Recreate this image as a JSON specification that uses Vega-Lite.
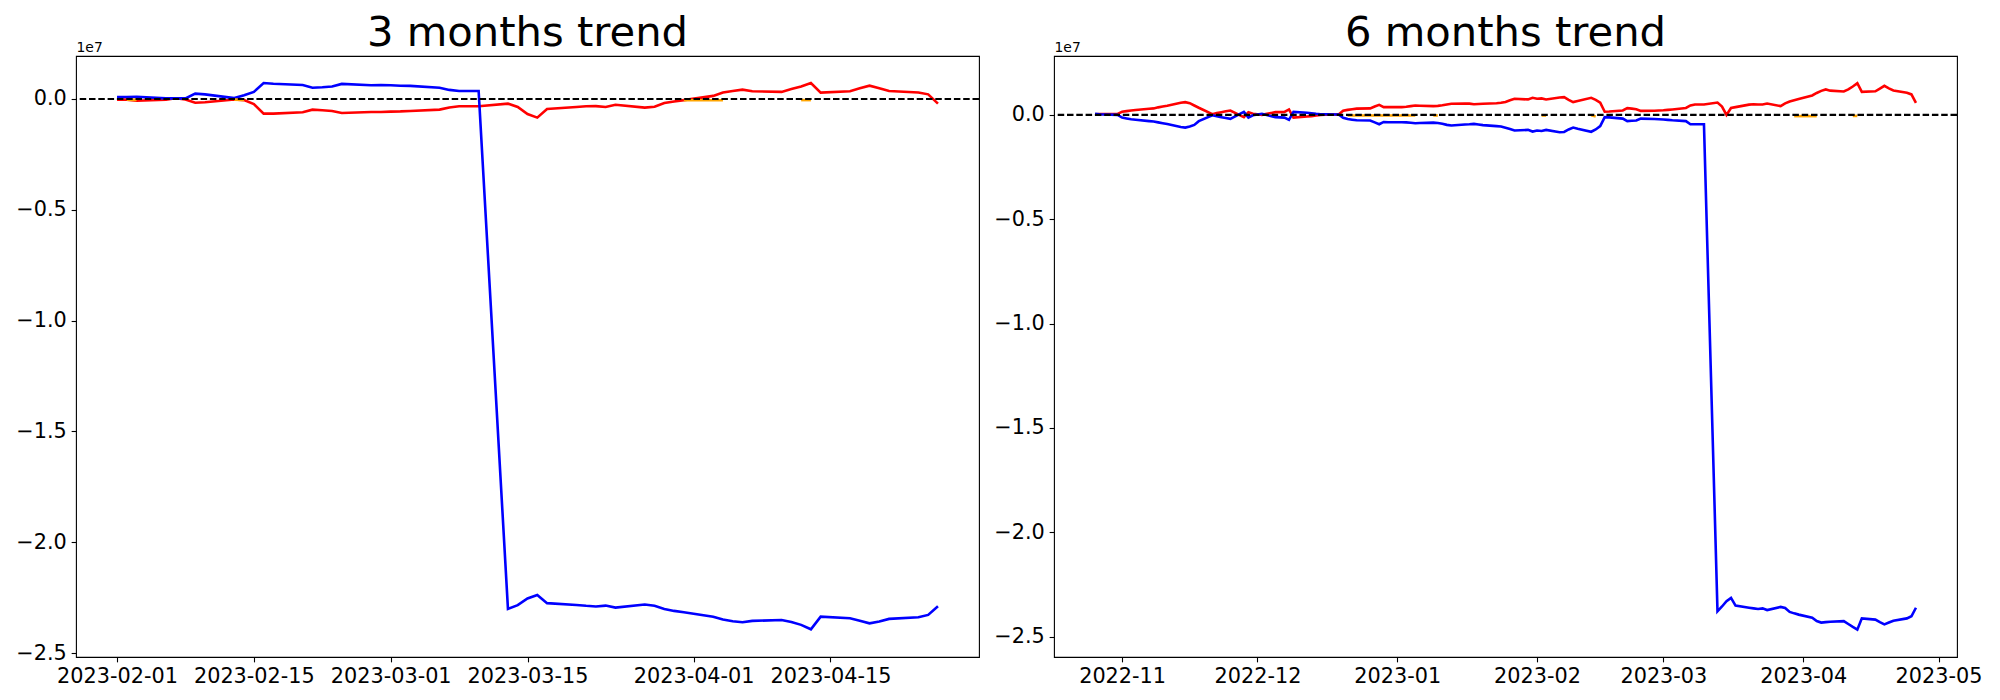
{
"$schema":"https://vega.github.io/schema/vega-lite/v6.json",
"padding":{"left":15,"top":12,"right":0,"bottom":0},
"background":"white",
"spacing":75,
"bounds":"flush",
"config":{
 "view":{"stroke":"black","strokeWidth":1.1},
 "axis":{"domain":false,"grid":false,"tickColor":"black","tickSize":4.86,"tickWidth":1.1,"labelFont":"DejaVu Sans","labelFontSize":20.8,"labelColor":"black","labelPadding":4.86,"labelFlush":false,"labelOverlap":false,"labelBound":false,"titleFont":"DejaVu Sans","titleColor":"black"},
 "title":{"font":"DejaVu Sans","fontSize":41.7,"fontWeight":"normal","color":"black","anchor":"middle","baseline":"alphabetic","offset":-14.9,"frame":"group"}
},
"datasets":{
"left":[
{"date":"2023-02-01","blue":0.009e7,"red":-0.003e7},
{"date":"2023-02-02","blue":0.009e7,"red":-0.003e7},
{"date":"2023-02-03","blue":0.010e7,"red":-0.008e7},
{"date":"2023-02-06","blue":0.003e7,"red":-0.003e7},
{"date":"2023-02-07","blue":0.003e7,"red":0.003e7},
{"date":"2023-02-08","blue":0.003e7,"red":-0.002e7},
{"date":"2023-02-09","blue":0.024e7,"red":-0.017e7},
{"date":"2023-02-10","blue":0.021e7,"red":-0.015e7},
{"date":"2023-02-13","blue":0.004e7,"red":-0.002e7},
{"date":"2023-02-14","blue":0.017e7,"red":-0.005e7},
{"date":"2023-02-15","blue":0.032e7,"red":-0.023e7},
{"date":"2023-02-16","blue":0.072e7,"red":-0.066e7},
{"date":"2023-02-17","blue":0.069e7,"red":-0.066e7},
{"date":"2023-02-20","blue":0.063e7,"red":-0.060e7},
{"date":"2023-02-21","blue":0.051e7,"red":-0.048e7},
{"date":"2023-02-22","blue":0.053e7,"red":-0.051e7},
{"date":"2023-02-23","blue":0.056e7,"red":-0.054e7},
{"date":"2023-02-24","blue":0.068e7,"red":-0.063e7},
{"date":"2023-02-27","blue":0.062e7,"red":-0.059e7},
{"date":"2023-02-28","blue":0.063e7,"red":-0.059e7},
{"date":"2023-03-01","blue":0.062e7,"red":-0.057e7},
{"date":"2023-03-02","blue":0.060e7,"red":-0.056e7},
{"date":"2023-03-03","blue":0.059e7,"red":-0.054e7},
{"date":"2023-03-06","blue":0.051e7,"red":-0.048e7},
{"date":"2023-03-07","blue":0.041e7,"red":-0.038e7},
{"date":"2023-03-08","blue":0.036e7,"red":-0.033e7},
{"date":"2023-03-09","blue":0.036e7,"red":-0.033e7},
{"date":"2023-03-10","blue":0.036e7,"red":-0.033e7},
{"date":"2023-03-13","blue":-2.301e7,"red":-0.021e7},
{"date":"2023-03-14","blue":-2.284e7,"red":-0.036e7},
{"date":"2023-03-15","blue":-2.254e7,"red":-0.068e7},
{"date":"2023-03-16","blue":-2.238e7,"red":-0.084e7},
{"date":"2023-03-17","blue":-2.275e7,"red":-0.045e7},
{"date":"2023-03-20","blue":-2.283e7,"red":-0.036e7},
{"date":"2023-03-21","blue":-2.287e7,"red":-0.033e7},
{"date":"2023-03-22","blue":-2.290e7,"red":-0.032e7},
{"date":"2023-03-23","blue":-2.286e7,"red":-0.036e7},
{"date":"2023-03-24","blue":-2.295e7,"red":-0.026e7},
{"date":"2023-03-27","blue":-2.281e7,"red":-0.039e7},
{"date":"2023-03-28","blue":-2.287e7,"red":-0.035e7},
{"date":"2023-03-29","blue":-2.301e7,"red":-0.018e7},
{"date":"2023-03-30","blue":-2.310e7,"red":-0.011e7},
{"date":"2023-03-31","blue":-2.316e7,"red":-0.005e7},
{"date":"2023-04-03","blue":-2.336e7,"red":0.014e7},
{"date":"2023-04-04","blue":-2.349e7,"red":0.029e7},
{"date":"2023-04-05","blue":-2.357e7,"red":0.036e7},
{"date":"2023-04-06","blue":-2.361e7,"red":0.042e7},
{"date":"2023-04-07","blue":-2.355e7,"red":0.035e7},
{"date":"2023-04-10","blue":-2.351e7,"red":0.032e7},
{"date":"2023-04-11","blue":-2.360e7,"red":0.045e7},
{"date":"2023-04-12","blue":-2.373e7,"red":0.056e7},
{"date":"2023-04-13","blue":-2.393e7,"red":0.072e7},
{"date":"2023-04-14","blue":-2.336e7,"red":0.029e7},
{"date":"2023-04-17","blue":-2.343e7,"red":0.035e7},
{"date":"2023-04-18","blue":-2.354e7,"red":0.048e7},
{"date":"2023-04-19","blue":-2.366e7,"red":0.060e7},
{"date":"2023-04-20","blue":-2.358e7,"red":0.049e7},
{"date":"2023-04-21","blue":-2.346e7,"red":0.036e7},
{"date":"2023-04-24","blue":-2.339e7,"red":0.029e7},
{"date":"2023-04-25","blue":-2.328e7,"red":0.021e7},
{"date":"2023-04-26","blue":-2.289e7,"red":-0.021e7}
],
"leftO":[
{"date":"2023-02-02","seg":"a","value":-0.003e7},
{"date":"2023-02-03","seg":"a","value":-0.004e7},
{"date":"2023-02-13","seg":"b","value":-0.003e7},
{"date":"2023-02-14","seg":"b","value":-0.004e7},
{"date":"2023-03-31","seg":"c","value":-0.006e7},
{"date":"2023-04-03","seg":"c","value":-0.006e7},
{"date":"2023-04-04","seg":"c","value":-0.006e7},
{"date":"2023-04-12","seg":"d","value":-0.005e7},
{"date":"2023-04-13","seg":"d","value":-0.005e7}
],
"right":[
{"date":"2022-10-26","red":0.003e7,"blue":0.005e7},
{"date":"2022-10-27","red":0.004e7,"blue":0.003e7},
{"date":"2022-10-28","red":0.004e7,"blue":0.002e7},
{"date":"2022-10-31","red":0.005e7,"blue":0.000e7},
{"date":"2022-11-01","red":0.015e7,"blue":-0.013e7},
{"date":"2022-11-02","red":0.018e7,"blue":-0.017e7},
{"date":"2022-11-03","red":0.021e7,"blue":-0.021e7},
{"date":"2022-11-04","red":0.023e7,"blue":-0.023e7},
{"date":"2022-11-07","red":0.029e7,"blue":-0.030e7},
{"date":"2022-11-08","red":0.031e7,"blue":-0.032e7},
{"date":"2022-11-09","red":0.036e7,"blue":-0.036e7},
{"date":"2022-11-10","red":0.040e7,"blue":-0.040e7},
{"date":"2022-11-11","red":0.044e7,"blue":-0.044e7},
{"date":"2022-11-14","red":0.058e7,"blue":-0.058e7},
{"date":"2022-11-15","red":0.061e7,"blue":-0.061e7},
{"date":"2022-11-16","red":0.056e7,"blue":-0.056e7},
{"date":"2022-11-17","red":0.045e7,"blue":-0.048e7},
{"date":"2022-11-18","red":0.034e7,"blue":-0.030e7},
{"date":"2022-11-21","red":0.003e7,"blue":-0.002e7},
{"date":"2022-11-22","red":0.009e7,"blue":-0.007e7},
{"date":"2022-11-23","red":0.013e7,"blue":-0.011e7},
{"date":"2022-11-24","red":0.017e7,"blue":-0.015e7},
{"date":"2022-11-25","red":0.021e7,"blue":-0.019e7},
{"date":"2022-11-28","red":-0.011e7,"blue":0.014e7},
{"date":"2022-11-29","red":0.013e7,"blue":-0.013e7},
{"date":"2022-11-30","red":0.005e7,"blue":-0.002e7},
{"date":"2022-12-01","red":0.003e7,"blue":0.002e7},
{"date":"2022-12-02","red":0.000e7,"blue":0.005e7},
{"date":"2022-12-05","red":0.013e7,"blue":-0.011e7},
{"date":"2022-12-06","red":0.013e7,"blue":-0.012e7},
{"date":"2022-12-07","red":0.014e7,"blue":-0.013e7},
{"date":"2022-12-08","red":0.026e7,"blue":-0.024e7},
{"date":"2022-12-09","red":-0.013e7,"blue":0.014e7},
{"date":"2022-12-12","red":-0.008e7,"blue":0.010e7},
{"date":"2022-12-13","red":-0.006e7,"blue":0.008e7},
{"date":"2022-12-14","red":-0.003e7,"blue":0.005e7},
{"date":"2022-12-15","red":0.000e7,"blue":0.003e7},
{"date":"2022-12-16","red":0.001e7,"blue":0.003e7},
{"date":"2022-12-19","red":0.002e7,"blue":0.002e7},
{"date":"2022-12-20","red":0.020e7,"blue":-0.014e7},
{"date":"2022-12-21","red":0.024e7,"blue":-0.020e7},
{"date":"2022-12-22","red":0.027e7,"blue":-0.023e7},
{"date":"2022-12-23","red":0.030e7,"blue":-0.026e7},
{"date":"2022-12-26","red":0.031e7,"blue":-0.027e7},
{"date":"2022-12-27","red":0.040e7,"blue":-0.036e7},
{"date":"2022-12-28","red":0.048e7,"blue":-0.045e7},
{"date":"2022-12-29","red":0.037e7,"blue":-0.034e7},
{"date":"2022-12-30","red":0.037e7,"blue":-0.035e7},
{"date":"2023-01-02","red":0.037e7,"blue":-0.035e7},
{"date":"2023-01-03","red":0.039e7,"blue":-0.036e7},
{"date":"2023-01-04","red":0.042e7,"blue":-0.038e7},
{"date":"2023-01-05","red":0.045e7,"blue":-0.040e7},
{"date":"2023-01-06","red":0.044e7,"blue":-0.039e7},
{"date":"2023-01-09","red":0.042e7,"blue":-0.037e7},
{"date":"2023-01-10","red":0.043e7,"blue":-0.039e7},
{"date":"2023-01-11","red":0.046e7,"blue":-0.043e7},
{"date":"2023-01-12","red":0.050e7,"blue":-0.048e7},
{"date":"2023-01-13","red":0.053e7,"blue":-0.051e7},
{"date":"2023-01-16","red":0.054e7,"blue":-0.046e7},
{"date":"2023-01-17","red":0.054e7,"blue":-0.045e7},
{"date":"2023-01-18","red":0.051e7,"blue":-0.043e7},
{"date":"2023-01-19","red":0.052e7,"blue":-0.046e7},
{"date":"2023-01-20","red":0.053e7,"blue":-0.049e7},
{"date":"2023-01-23","red":0.056e7,"blue":-0.054e7},
{"date":"2023-01-24","red":0.058e7,"blue":-0.056e7},
{"date":"2023-01-25","red":0.062e7,"blue":-0.062e7},
{"date":"2023-01-26","red":0.070e7,"blue":-0.068e7},
{"date":"2023-01-27","red":0.077e7,"blue":-0.075e7},
{"date":"2023-01-30","red":0.074e7,"blue":-0.072e7},
{"date":"2023-01-31","red":0.082e7,"blue":-0.080e7},
{"date":"2023-02-01","red":0.077e7,"blue":-0.075e7},
{"date":"2023-02-02","red":0.079e7,"blue":-0.077e7},
{"date":"2023-02-03","red":0.074e7,"blue":-0.072e7},
{"date":"2023-02-06","red":0.083e7,"blue":-0.083e7},
{"date":"2023-02-07","red":0.085e7,"blue":-0.082e7},
{"date":"2023-02-08","red":0.072e7,"blue":-0.070e7},
{"date":"2023-02-09","red":0.061e7,"blue":-0.061e7},
{"date":"2023-02-10","red":0.066e7,"blue":-0.067e7},
{"date":"2023-02-13","red":0.082e7,"blue":-0.081e7},
{"date":"2023-02-14","red":0.072e7,"blue":-0.070e7},
{"date":"2023-02-15","red":0.058e7,"blue":-0.054e7},
{"date":"2023-02-16","red":0.015e7,"blue":-0.011e7},
{"date":"2023-02-17","red":0.016e7,"blue":-0.012e7},
{"date":"2023-02-20","red":0.021e7,"blue":-0.018e7},
{"date":"2023-02-21","red":0.032e7,"blue":-0.030e7},
{"date":"2023-02-22","red":0.030e7,"blue":-0.028e7},
{"date":"2023-02-23","red":0.027e7,"blue":-0.027e7},
{"date":"2023-02-24","red":0.019e7,"blue":-0.018e7},
{"date":"2023-02-27","red":0.020e7,"blue":-0.020e7},
{"date":"2023-02-28","red":0.021e7,"blue":-0.021e7},
{"date":"2023-03-01","red":0.022e7,"blue":-0.022e7},
{"date":"2023-03-02","red":0.024e7,"blue":-0.024e7},
{"date":"2023-03-03","red":0.026e7,"blue":-0.026e7},
{"date":"2023-03-06","red":0.033e7,"blue":-0.030e7},
{"date":"2023-03-07","red":0.045e7,"blue":-0.045e7},
{"date":"2023-03-08","red":0.050e7,"blue":-0.045e7},
{"date":"2023-03-09","red":0.050e7,"blue":-0.045e7},
{"date":"2023-03-10","red":0.050e7,"blue":-0.045e7},
{"date":"2023-03-13","red":0.059e7,"blue":-2.378e7},
{"date":"2023-03-14","red":0.040e7,"blue":-2.355e7},
{"date":"2023-03-15","red":0.000e7,"blue":-2.330e7},
{"date":"2023-03-16","red":0.033e7,"blue":-2.314e7},
{"date":"2023-03-17","red":0.037e7,"blue":-2.351e7},
{"date":"2023-03-20","red":0.049e7,"blue":-2.361e7},
{"date":"2023-03-21","red":0.051e7,"blue":-2.364e7},
{"date":"2023-03-22","red":0.050e7,"blue":-2.367e7},
{"date":"2023-03-23","red":0.050e7,"blue":-2.364e7},
{"date":"2023-03-24","red":0.054e7,"blue":-2.372e7},
{"date":"2023-03-27","red":0.042e7,"blue":-2.357e7},
{"date":"2023-03-28","red":0.055e7,"blue":-2.362e7},
{"date":"2023-03-29","red":0.064e7,"blue":-2.381e7},
{"date":"2023-03-30","red":0.070e7,"blue":-2.388e7},
{"date":"2023-03-31","red":0.076e7,"blue":-2.394e7},
{"date":"2023-04-03","red":0.093e7,"blue":-2.409e7},
{"date":"2023-04-04","red":0.105e7,"blue":-2.425e7},
{"date":"2023-04-05","red":0.115e7,"blue":-2.432e7},
{"date":"2023-04-06","red":0.122e7,"blue":-2.430e7},
{"date":"2023-04-07","red":0.116e7,"blue":-2.428e7},
{"date":"2023-04-10","red":0.112e7,"blue":-2.425e7},
{"date":"2023-04-11","red":0.122e7,"blue":-2.439e7},
{"date":"2023-04-12","red":0.136e7,"blue":-2.453e7},
{"date":"2023-04-13","red":0.152e7,"blue":-2.466e7},
{"date":"2023-04-14","red":0.110e7,"blue":-2.412e7},
{"date":"2023-04-17","red":0.113e7,"blue":-2.418e7},
{"date":"2023-04-18","red":0.126e7,"blue":-2.430e7},
{"date":"2023-04-19","red":0.139e7,"blue":-2.441e7},
{"date":"2023-04-20","red":0.127e7,"blue":-2.432e7},
{"date":"2023-04-21","red":0.117e7,"blue":-2.423e7},
{"date":"2023-04-24","red":0.106e7,"blue":-2.412e7},
{"date":"2023-04-25","red":0.098e7,"blue":-2.402e7},
{"date":"2023-04-26","red":0.058e7,"blue":-2.361e7}
],
"rightO":[
{"date":"2022-12-21","seg":"a","value":-0.003e7},
{"date":"2022-12-23","seg":"a","value":-0.003e7},
{"date":"2022-12-27","seg":"a","value":-0.003e7},
{"date":"2022-12-30","seg":"a","value":-0.003e7},
{"date":"2023-01-03","seg":"a","value":-0.003e7},
{"date":"2023-01-05","seg":"a","value":-0.003e7},
{"date":"2023-01-09","seg":"b","value":-0.003e7},
{"date":"2023-01-10","seg":"b","value":-0.003e7},
{"date":"2023-02-02","seg":"c","value":-0.003e7},
{"date":"2023-02-03","seg":"c","value":-0.003e7},
{"date":"2023-02-13","seg":"d","value":-0.002e7},
{"date":"2023-02-14","seg":"d","value":-0.008e7},
{"date":"2023-03-30","seg":"e","value":-0.006e7},
{"date":"2023-03-31","seg":"e","value":-0.006e7},
{"date":"2023-04-03","seg":"e","value":-0.006e7},
{"date":"2023-04-04","seg":"e","value":-0.006e7},
{"date":"2023-04-12","seg":"f","value":-0.005e7},
{"date":"2023-04-13","seg":"f","value":-0.005e7}
]
},
"hconcat":[
{
 "width":903,"height":601,
 "title":{"text":"3 months trend"},
 "layer":[
  {"data":{"name":"left"},"mark":{"type":"line","color":"red","strokeWidth":2.6},
   "encoding":{
    "x":{"field":"date","type":"temporal","scale":{"type":"utc","nice":false,"domain":[{"year":2023,"month":1,"date":27,"hours":19,"minutes":12,"utc":true},{"year":2023,"month":4,"date":30,"hours":4,"minutes":48,"utc":true}]},
     "axis":{"title":null,"labelExpr":"utcFormat(datum.value,'%Y-%m-%d')","values":[{"year":2023,"month":2,"date":1,"utc":true},{"year":2023,"month":2,"date":15,"utc":true},{"year":2023,"month":3,"date":1,"utc":true},{"year":2023,"month":3,"date":15,"utc":true},{"year":2023,"month":4,"date":1,"utc":true},{"year":2023,"month":4,"date":15,"utc":true}]}},
    "y":{"field":"red","type":"quantitative","scale":{"domain":[-25180000,1940000],"nice":false,"zero":false},
     "axis":{"values":[-25000000,-20000000,-15000000,-10000000,-5000000,0],"labelExpr":"replace(format(datum.value/1e7,'.1f'),'-','\u2212')","title":"1e7","titleAngle":0,"titleAlign":"left","titleBaseline":"alphabetic","titleX":0,"titleY":-5,"titleFontSize":13.9,"titleFontWeight":"normal"}}
   }},
  {"data":{"name":"left"},"mark":{"type":"line","color":"blue","strokeWidth":2.6},
   "encoding":{"x":{"field":"date","type":"temporal"},"y":{"field":"blue","type":"quantitative"}}},
  {"data":{"name":"leftO"},"mark":{"type":"line","color":"orange","strokeWidth":2.6},
   "encoding":{"x":{"field":"date","type":"temporal"},"y":{"field":"value","type":"quantitative"},"detail":{"field":"seg"}}},
  {"data":{"values":[{}]},"mark":{"type":"rule","color":"black","strokeWidth":2.1,"strokeDash":[6.5,2.8]},
   "encoding":{"y":{"datum":0}}}
 ]
},
{
 "width":903,"height":601,
 "title":{"text":"6 months trend"},
 "layer":[
  {"data":{"name":"right"},"mark":{"type":"line","color":"red","strokeWidth":2.6},
   "encoding":{
    "x":{"field":"date","type":"temporal","scale":{"type":"utc","nice":false,"domain":[{"year":2022,"month":10,"date":16,"hours":21,"minutes":36,"utc":true},{"year":2023,"month":5,"date":5,"hours":2,"minutes":24,"utc":true}]},
     "axis":{"title":null,"labelExpr":"utcFormat(datum.value,'%Y-%m')","values":[{"year":2022,"month":11,"date":1,"utc":true},{"year":2022,"month":12,"date":1,"utc":true},{"year":2023,"month":1,"date":1,"utc":true},{"year":2023,"month":2,"date":1,"utc":true},{"year":2023,"month":3,"date":1,"utc":true},{"year":2023,"month":4,"date":1,"utc":true},{"year":2023,"month":5,"date":1,"utc":true}]}},
    "y":{"field":"red","type":"quantitative","scale":{"domain":[-25970000,2820000],"nice":false,"zero":false},
     "axis":{"values":[-25000000,-20000000,-15000000,-10000000,-5000000,0],"labelExpr":"replace(format(datum.value/1e7,'.1f'),'-','\u2212')","title":"1e7","titleAngle":0,"titleAlign":"left","titleBaseline":"alphabetic","titleX":0,"titleY":-5,"titleFontSize":13.9,"titleFontWeight":"normal"}}
   }},
  {"data":{"name":"right"},"mark":{"type":"line","color":"blue","strokeWidth":2.6},
   "encoding":{"x":{"field":"date","type":"temporal"},"y":{"field":"blue","type":"quantitative"}}},
  {"data":{"name":"rightO"},"mark":{"type":"line","color":"orange","strokeWidth":2.6},
   "encoding":{"x":{"field":"date","type":"temporal"},"y":{"field":"value","type":"quantitative"},"detail":{"field":"seg"}}},
  {"data":{"values":[{}]},"mark":{"type":"rule","color":"black","strokeWidth":2.1,"strokeDash":[6.5,2.8]},
   "encoding":{"y":{"datum":0}}}
 ]
}
]
}
